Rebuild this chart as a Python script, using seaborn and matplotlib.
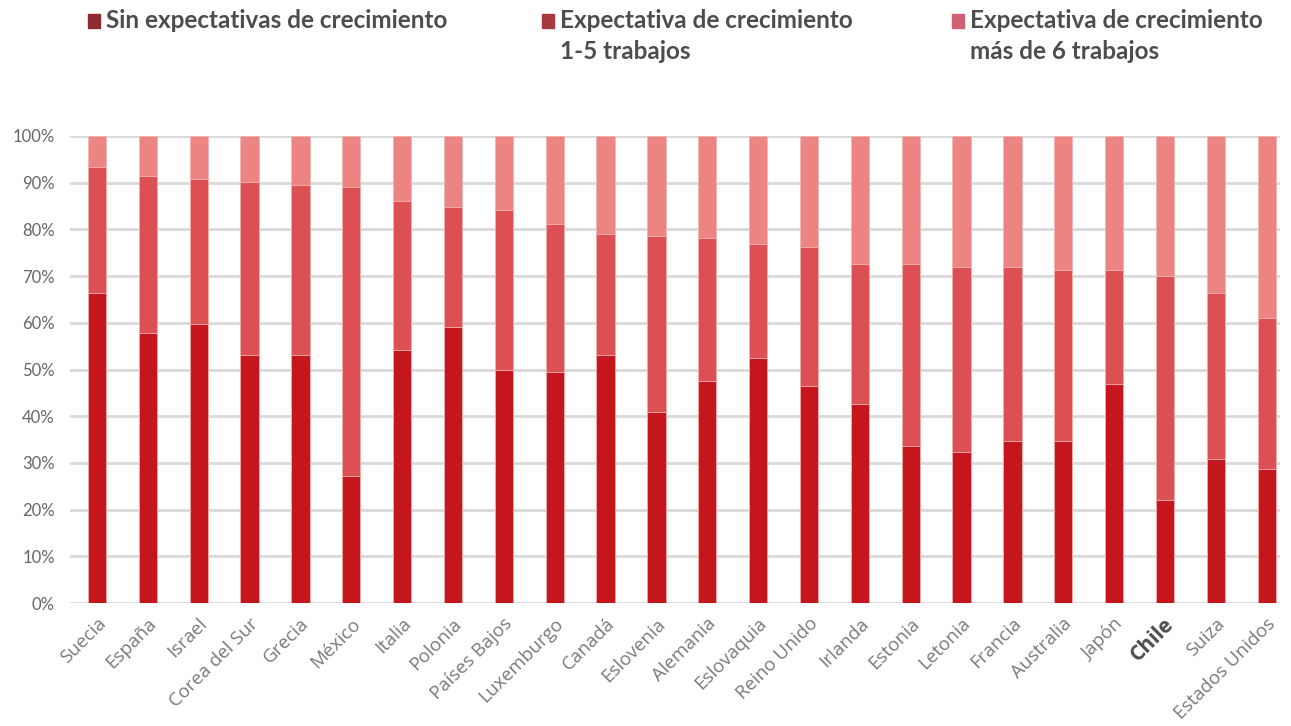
import numpy as np
import pandas as pd
import seaborn as sns
import matplotlib.pyplot as plt
import matplotlib.patches as mpatches
import matplotlib.transforms as mtransforms
from matplotlib.ticker import PercentFormatter

# datos (porcentaje acumulado)
paises = ["Suecia", "España", "Israel", "Corea del Sur", "Grecia", "México", "Italia",
          "Polonia", "Países Bajos", "Luxemburgo", "Canadá", "Eslovenia", "Alemania",
          "Eslovaquia", "Reino Unido", "Irlanda", "Estonia", "Letonia", "Francia",
          "Australia", "Japón", "Chile", "Suiza", "Estados Unidos"]
sin_crecimiento = [66.4, 57.9, 59.7, 53.1, 53.1, 27.3, 54.2, 59.0, 50.0, 49.4, 53.1, 40.9,
                   47.5, 52.4, 46.4, 42.6, 33.6, 32.3, 34.6, 34.6, 46.9, 22.0, 30.9, 28.6]
hasta_5_acum = [93.3, 91.4, 90.7, 90.2, 89.6, 89.0, 86.0, 84.8, 84.1, 81.1, 79.1, 78.6,
                78.1, 76.9, 76.2, 72.6, 72.6, 71.9, 71.9, 71.2, 71.2, 70.1, 66.4, 61.0]
total = [100.0] * len(paises)

etiquetas = ["Sin expectativas de crecimiento",
             "Expectativa de crecimiento\n1-5 trabajos",
             "Expectativa de crecimiento\nmás de 6 trabajos"]
colores_barras = ["#C4161C", "#DC5054", "#EC8482"]
colores_leyenda = ["#8E2A31", "#A63841", "#CE6272"]

df = pd.DataFrame({"pais": paises, "base": sin_crecimiento,
                   "medio": hasta_5_acum, "total": total})

sns.set_theme(style="white")
plt.rcParams["font.family"] = ["Lato", "DejaVu Sans"]

fig = plt.figure(figsize=(12.91, 7.26), dpi=100)
ax = fig.add_axes([70 / 1291, 1 - 603 / 726, (1280 - 70) / 1291, (603 - 136) / 726])

for col, color in zip(["total", "medio", "base"], colores_barras[::-1]):
    sns.barplot(data=df, x="pais", y=col, color=color, width=0.36, ax=ax,
                saturation=1, edgecolor="#F3B5B5", linewidth=0.6, zorder=3)

ax.set_xlim(-0.53, 23.26)
ax.set_ylim(0, 100)
ax.set_yticks(np.arange(0, 101, 10))
ax.yaxis.set_major_formatter(PercentFormatter(decimals=0))
ax.grid(axis="y", color="#D9D9D9", linewidth=2, zorder=0)
ax.set_axisbelow(True)
sns.despine(ax=ax, left=True, bottom=True)
ax.set_xlabel("")
ax.set_ylabel("")
ax.tick_params(axis="y", labelsize=12, labelcolor="#666666", length=0, pad=11)
ax.tick_params(axis="x", labelsize=13.5, labelcolor="#7A7A7A", length=0, pad=13)

desplaza = mtransforms.ScaledTranslation(6 / 100, 0, fig.dpi_scale_trans)
for lab in ax.get_xticklabels():
    lab.set_rotation(45)
    lab.set_ha("right")
    lab.set_va("center")
    lab.set_rotation_mode("anchor")
    lab.set_family(["Open Sans", "DejaVu Sans"])
    lab.set_transform(lab.get_transform() + desplaza)
    if lab.get_text() == "Chile":
        lab.set_fontweight("bold")
        lab.set_fontsize(15)
        lab.set_color("#4D4D4D")

# leyenda
xs = [88, 542, 952]
for x, texto, color in zip(xs, etiquetas, colores_leyenda):
    fig.patches.append(mpatches.Rectangle((x / 1291, 1 - 28 / 726), 12 / 1291, 14 / 726,
                                          transform=fig.transFigure, color=color))
    fig.text((x + 18) / 1291, 1 - 9 / 726, texto, fontsize=17.5, fontweight="bold",
             color="#4D4D4D", va="top", ha="left", linespacing=1.4)

plt.savefig("out.png", dpi=100)
